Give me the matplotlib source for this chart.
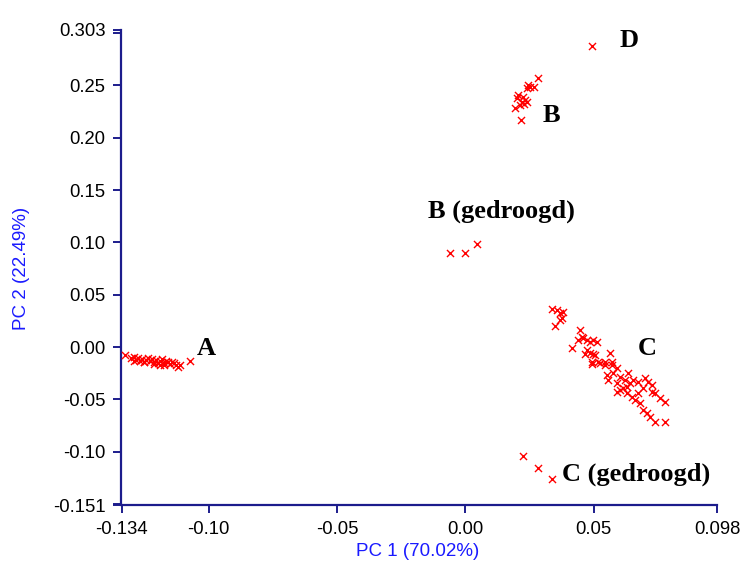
import matplotlib
matplotlib.use("Agg")
import matplotlib.pyplot as plt

# ---- data ----
a_x = [-0.1326, -0.1303, -0.1291, -0.1284, -0.1276, -0.1268, -0.1260, -0.1252, -0.1244, -0.1237,
       -0.1229, -0.1221, -0.1213, -0.1205, -0.1198, -0.1190, -0.1182, -0.1174, -0.1166, -0.1159,
       -0.1151, -0.1143, -0.1135, -0.1127, -0.1120, -0.1112, -0.1073, -0.1252, -0.1213, -0.1174,
       -0.1291, -0.1190]
a_y = [-0.0076, -0.0105, -0.0096, -0.0124, -0.0105, -0.0134, -0.0115, -0.0143, -0.0124, -0.0105,
       -0.0134, -0.0115, -0.0143, -0.0124, -0.0153, -0.0134, -0.0115, -0.0153, -0.0134, -0.0143,
       -0.0163, -0.0143, -0.0153, -0.0172, -0.0191, -0.0172, -0.0134, -0.0143, -0.0163, -0.0172,
       -0.0134, -0.0172]

b_x = [0.0284, 0.0268, 0.0251, 0.0238, 0.0242, 0.0206, 0.0225, 0.0232, 0.0219, 0.0193,
       0.0212, 0.0229, 0.0216, 0.0199, 0.0238]
b_y = [0.2568, 0.2488, 0.2488, 0.2473, 0.2504, 0.2409, 0.2392, 0.2361, 0.2345, 0.2287,
       0.2313, 0.2320, 0.2170, 0.2377, 0.2345]

d_x = [0.0493]
d_y = [0.2877]

bg_x = [-0.0060, -0.0002, 0.0044]
bg_y = [0.0901, 0.0901, 0.0984]

cg_x = [0.0223, 0.0284, 0.0336]
cg_y = [-0.1043, -0.1160, -0.1265]

c_x = [0.0336, 0.0355, 0.0368, 0.0381, 0.0375, 0.0349, 0.0368, 0.0446, 0.0453, 0.0439,
       0.0459, 0.0472, 0.0485, 0.0498, 0.0511, 0.0414, 0.0472, 0.0485, 0.0504, 0.0563,
       0.0492, 0.0517, 0.0543, 0.0570, 0.0466, 0.0498, 0.0492, 0.0524, 0.0543, 0.0570,
       0.0589, 0.0634, 0.0550, 0.0576, 0.0602, 0.0621, 0.0654, 0.0673, 0.0699, 0.0712,
       0.0725, 0.0556, 0.0589, 0.0589, 0.0615, 0.0628, 0.0647, 0.0673, 0.0693, 0.0725,
       0.0738, 0.0758, 0.0777, 0.0660, 0.0680, 0.0693, 0.0706, 0.0719, 0.0738, 0.0777,
       0.0628, 0.0602, 0.0641]
c_y = [0.0363, 0.0354, 0.0322, 0.0337, 0.0274, 0.0204, 0.0258, 0.0163, 0.0098, 0.0067,
       0.0083, 0.0067, 0.0051, 0.0067, 0.0051, -0.0012, -0.0029, -0.0060, -0.0076, -0.0060,
       -0.0141, -0.0141, -0.0141, -0.0141, -0.0067, -0.0067, -0.0163, -0.0156, -0.0172, -0.0172,
       -0.0204, -0.0251, -0.0268, -0.0251, -0.0284, -0.0315, -0.0315, -0.0332, -0.0299, -0.0332,
       -0.0363, -0.0315, -0.0347, -0.0427, -0.0395, -0.0443, -0.0475, -0.0443, -0.0395, -0.0427,
       -0.0443, -0.0490, -0.0523, -0.0507, -0.0538, -0.0602, -0.0634, -0.0666, -0.0714, -0.0714,
       -0.0380, -0.0411, -0.0347]

labels = ["A", "B", "C", "D", "B (gedroogd)", "C (gedroogd)"]
label_x = [-0.1046, 0.0302, 0.0672, 0.0602, -0.0146, 0.0376]
label_y = [-0.0076, 0.2150, -0.0076, 0.2867, 0.1233, -0.1272]

x_ticks = [-0.134, -0.10, -0.05, 0.00, 0.05, 0.098]
x_ticklabels = ["-0.134", "-0.10", "-0.05", "0.00", "0.05", "0.098"]
y_ticks = [-0.151, -0.10, -0.05, 0.00, 0.05, 0.10, 0.15, 0.20, 0.25, 0.303]
y_ticklabels = ["-0.151", "-0.10", "-0.05", "0.00", "0.05", "0.10", "0.15", "0.20", "0.25", "0.303"]
y_minor = [-0.15, 0.30]

xlabel = "PC 1 (70.02%)"
ylabel = "PC 2 (22.49%)"

# ---- figure ----
navy = "#1c1c8c"
fig = plt.figure(figsize=(7.4, 5.62), dpi=100)
ax = fig.add_axes([121.5 / 740, 1 - 505 / 562, (717 - 121.5) / 740, (505 - 30) / 562])

for xs, ys in [(a_x, a_y), (b_x, b_y), (c_x, c_y), (d_x, d_y), (bg_x, bg_y), (cg_x, cg_y)]:
    ax.scatter(xs, ys, marker="x", s=26, linewidths=1.0, color="#ff0000", clip_on=False, zorder=3)

for t, lx, ly in zip(labels, label_x, label_y):
    ax.text(lx, ly, t, ha="left", va="baseline", fontsize=19, fontweight="bold",
            family="Liberation Serif", color="black")

ax.set_xlim(-0.134, 0.098)
ax.set_ylim(-0.151, 0.303)
ax.set_xticks(x_ticks)
ax.set_xticklabels(x_ticklabels)
ax.set_yticks(y_ticks)
ax.set_yticklabels(y_ticklabels)
ax.set_yticks(y_minor, minor=True)

for s in ["top", "right"]:
    ax.spines[s].set_visible(False)
for s in ["left", "bottom"]:
    ax.spines[s].set_color(navy)
    ax.spines[s].set_linewidth(1.6)

ax.tick_params(axis="both", which="major", direction="out", length=6, width=1.4, color=navy,
               labelsize=13.3, pad=5.5)
ax.tick_params(axis="y", which="minor", direction="out", length=6, width=1.4, color=navy)
for lab in ax.get_xticklabels() + ax.get_yticklabels():
    lab.set_family("Liberation Sans")

fig.text(418 / 740, 1 - 551 / 562, xlabel, ha="center", va="center", fontsize=13.5,
         color="#1a1aff", family="Liberation Sans")
fig.text(22 / 740, 1 - 268 / 562, ylabel, ha="center", va="center", fontsize=13.5,
         rotation=90, color="#1a1aff", family="Liberation Sans")

fig.savefig("out.png", dpi=100)
